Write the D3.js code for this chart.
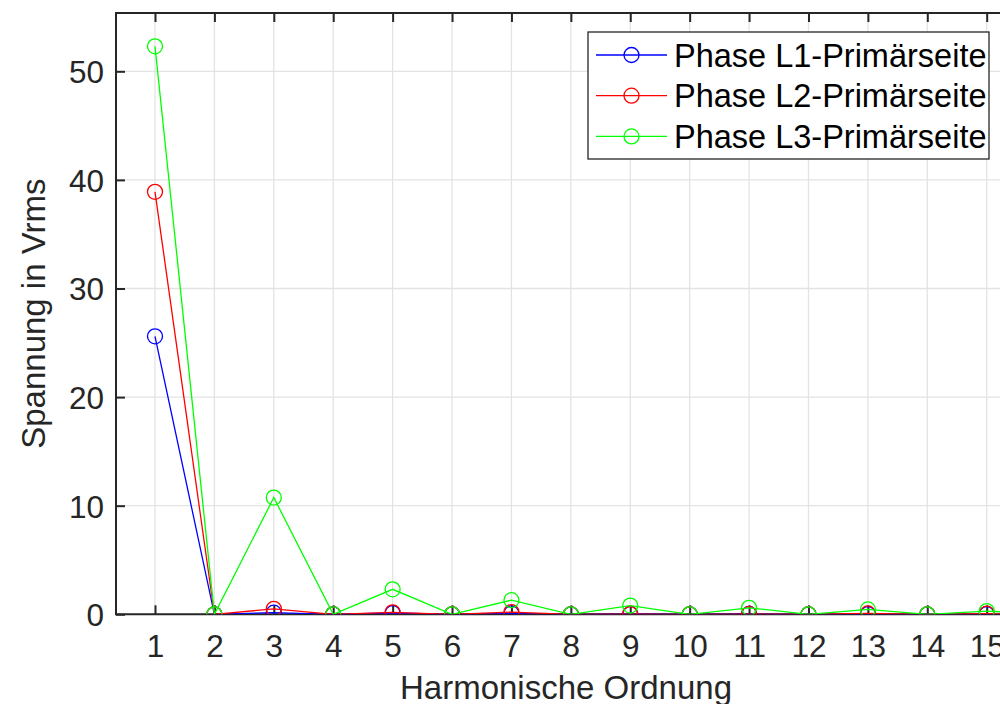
<!DOCTYPE html>
<html>
<head>
<meta charset="utf-8">
<script src="https://cdn.jsdelivr.net/npm/d3@7"></script>
<style>
  body { margin: 0; background: #fff; }
  svg { display: block; font-family: "Liberation Sans", Arial, sans-serif; }
</style>
</head>
<body>
<div id="chart"></div>
<script>
// harmonic orders and measured voltages (Vrms)
const harmonics = [1, 2, 3, 4, 5, 6, 7, 8, 9, 10, 11, 12, 13, 14, 15, 16];
const phaseL1 = [25.6, 0, 0.15, 0, 0.12, 0, 0.08, 0, 0.03, 0, 0.03, 0, 0.02, 0, 0.02, 0];
const phaseL2 = [38.9, 0, 0.5, 0, 0.18, 0, 0.2, 0, 0.02, 0, 0.02, 0, 0.08, 0, 0.06, 0];
const phaseL3 = [52.3, 0, 10.75, 0, 2.3, 0, 1.3, 0, 0.8, 0, 0.6, 0, 0.45, 0, 0.3, 0];
const seriesNames = ["Phase L1-Primärseite", "Phase L2-Primärseite", "Phase L3-Primärseite"];
const xTicks = [1, 2, 3, 4, 5, 6, 7, 8, 9, 10, 11, 12, 13, 14, 15];
const yTicks = [0, 10, 20, 30, 40, 50];

const width = 1000, height = 704;
const box = { left: 116, right: 1016, top: 13, bottom: 614.3 };

const series = [
    { name: seriesNames[0], values: phaseL1, color: "#0000ff" },
    { name: seriesNames[1], values: phaseL2, color: "#ff0000" },
    { name: seriesNames[2], values: phaseL3, color: "#00ff00" }
];

const x = d3.scaleLinear().domain([1, 15]).range([155, 986.7]);
const y = d3.scaleLinear().domain([0, 50]).range([box.bottom, 71.3]);

const svg = d3.select("#chart").append("svg")
    .attr("width", width)
    .attr("height", height);

svg.append("defs").append("clipPath").attr("id", "clip")
    .append("rect")
    .attr("x", box.left).attr("y", box.top)
    .attr("width", box.right - box.left).attr("height", box.bottom - box.top);

// grid
const grid = svg.append("g").attr("stroke", "#e3e3e3").attr("stroke-width", 1.3);
grid.selectAll("line.gx").data(xTicks).join("line")
    .attr("x1", d => x(d)).attr("x2", d => x(d))
    .attr("y1", box.top).attr("y2", box.bottom);
grid.selectAll("line.gy").data(yTicks.filter(d => d > 0)).join("line")
    .attr("x1", box.left).attr("x2", box.right)
    .attr("y1", d => y(d)).attr("y2", d => y(d));

// axes (ticks inward, MATLAB style)
const xAxis = svg.append("g")
    .attr("transform", `translate(0,${box.bottom})`)
    .call(d3.axisBottom(x).tickValues(xTicks).tickSizeInner(-9).tickSizeOuter(0).tickPadding(20));
const xAxisTop = svg.append("g")
    .attr("transform", `translate(0,${box.top})`)
    .call(d3.axisTop(x).tickValues(xTicks).tickSizeInner(-9).tickSizeOuter(0).tickFormat(""));
const yAxis = svg.append("g")
    .attr("transform", `translate(${box.left},0)`)
    .call(d3.axisLeft(y).tickValues(yTicks).tickSizeInner(-9).tickSizeOuter(0).tickPadding(12));

[xAxis, xAxisTop, yAxis].forEach(g => {
    g.select(".domain").remove();
    g.selectAll(".tick line").attr("stroke", "#262626").attr("stroke-width", 2);
    g.selectAll(".tick text")
        .attr("fill", "#262626")
        .attr("font-size", 31.5)
        .attr("font-family", "\"Liberation Sans\", Arial, sans-serif");
});
yAxis.selectAll(".tick text").attr("dy", "0.36em");

// box outline
svg.append("path")
    .attr("d", `M${box.right},${box.top}H${box.left}V${box.bottom}H${box.right}`)
    .attr("fill", "none")
    .attr("stroke", "#262626")
    .attr("stroke-width", 2);

// data
const plot = svg.append("g").attr("clip-path", "url(#clip)");
const line = d3.line().x((d, i) => x(harmonics[i])).y(d => y(d));

series.forEach(s => {
    const g = plot.append("g");
    g.append("path")
        .datum(s.values)
        .attr("d", line)
        .attr("fill", "none")
        .attr("stroke", s.color)
        .attr("stroke-width", 1.3);
    g.selectAll("circle").data(s.values).join("circle")
        .attr("cx", (d, i) => x(harmonics[i]))
        .attr("cy", d => y(d))
        .attr("r", 7.5)
        .attr("fill", "none")
        .attr("stroke", s.color)
        .attr("stroke-width", 1.3);
});

// axis labels
svg.append("text")
    .attr("x", (box.left + box.right) / 2)
    .attr("y", 699)
    .attr("text-anchor", "middle")
    .attr("font-size", 33)
    .attr("fill", "#262626")
    .text("Harmonische Ordnung");

svg.append("text")
    .attr("transform", `translate(45,${(box.top + box.bottom) / 2}) rotate(-90)`)
    .attr("text-anchor", "middle")
    .attr("font-size", 33)
    .attr("fill", "#262626")
    .text("Spannung in Vrms");

// legend
const legend = svg.append("g");
legend.append("rect")
    .attr("x", 588).attr("y", 32)
    .attr("width", 401).attr("height", 127)
    .attr("fill", "#fff")
    .attr("stroke", "#262626")
    .attr("stroke-width", 1.3);

const rows = legend.selectAll("g.row").data(series).join("g")
    .attr("transform", (d, i) => `translate(0,${55 + i * 40.7})`);
rows.append("line")
    .attr("x1", 596).attr("x2", 667)
    .attr("stroke", d => d.color)
    .attr("stroke-width", 1.3);
rows.append("circle")
    .attr("cx", 631.5).attr("r", 7.5)
    .attr("fill", "none")
    .attr("stroke", d => d.color)
    .attr("stroke-width", 1.3);
rows.append("text")
    .attr("x", 674)
    .attr("dy", "0.36em")
    .attr("font-size", 32.5)
    .attr("fill", "#000")
    .text(d => d.name);
</script>
</body>
</html>
